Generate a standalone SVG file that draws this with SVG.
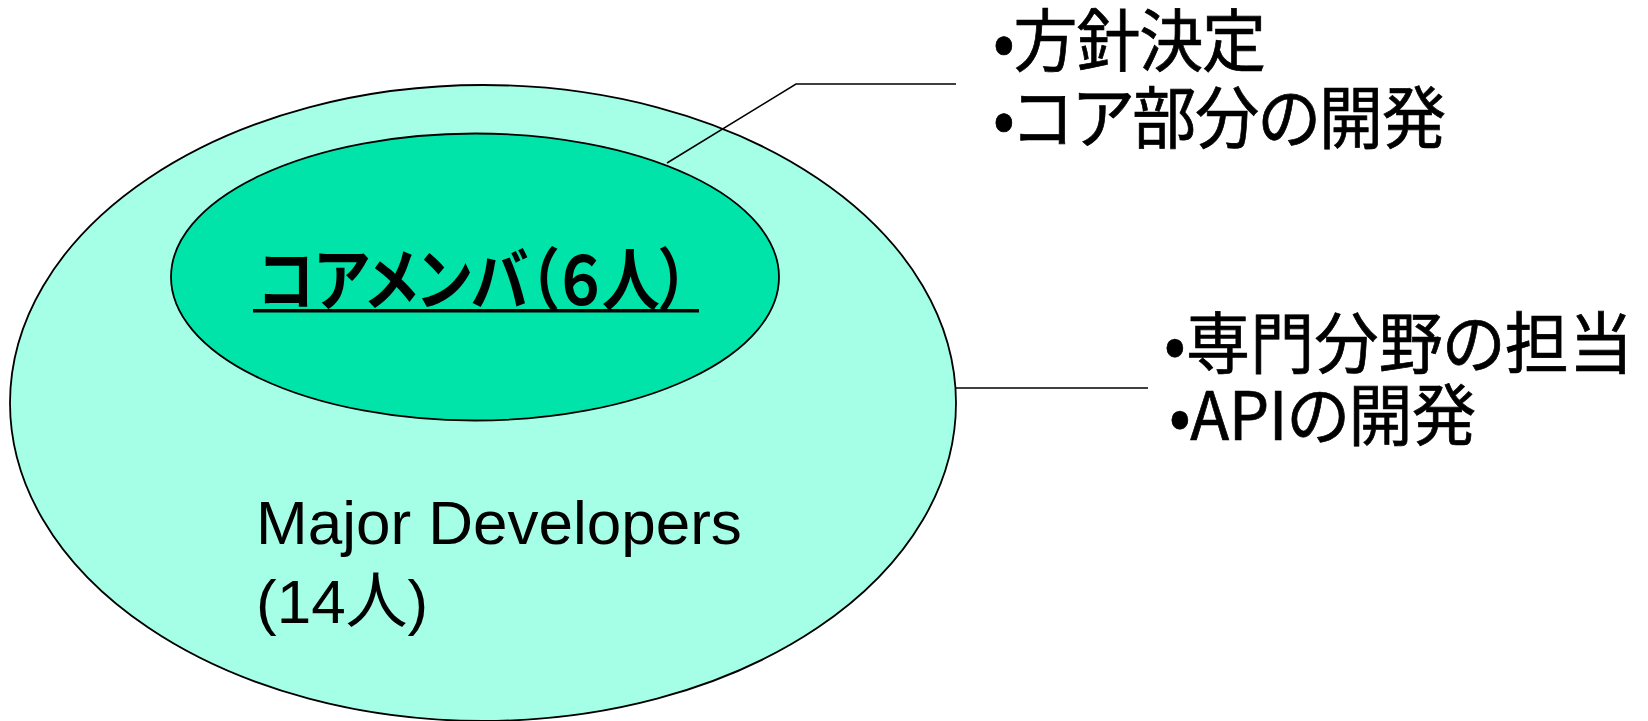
<svg xmlns="http://www.w3.org/2000/svg" width="1648" height="721" viewBox="0 0 1648 721">
  <style>
    .jp { font-family: "Noto Sans CJK JP", "Noto Sans", sans-serif; fill: #000; font-feature-settings: "palt"; }
    .rt { font-size: 64px; stroke: #000; stroke-width: 0.7; }
    .lat { font-family: "Liberation Sans", "Noto Sans CJK JP", sans-serif; fill: #000; }
    .conn { stroke: #000; stroke-width: 1.5; fill: none; }
  </style>
  <rect width="1648" height="721" fill="#fff"/>
  <g id="major-developers">
    <ellipse cx="483" cy="403" rx="473" ry="318" fill="#A5FFE6" stroke="#000" stroke-width="1.8"/>
    <text class="lat" x="256" y="544" font-size="62">Major Developers</text>
    <text class="lat" x="256" y="623" font-size="62">(14人)</text>
  </g>
  <g id="core-members">
    <ellipse cx="475" cy="277" rx="304" ry="143.5" fill="#00E4AA" stroke="#000" stroke-width="1.8"/>
    <text class="jp" x="258" y="0" transform="translate(0,305) scale(1,1.06)" font-size="64" font-weight="bold" textLength="431" lengthAdjust="spacingAndGlyphs">コアメンバ（６人）</text>
    <rect x="253" y="309" width="446" height="3.5" fill="#000"/>
  </g>
  <g id="core-roles">
    <text class="jp rt" x="993" y="0" transform="translate(0,66) scale(1,1.07)" textLength="273">•方針決定</text>
    <text class="jp rt" x="993" y="0" transform="translate(0,143) scale(1,1.07)" textLength="453">•コア部分の開発</text>
  </g>
  <g id="major-roles">
    <text class="jp rt" x="1164" y="0" transform="translate(0,368) scale(1,1.05)" textLength="469">•専門分野の担当</text>
    <text class="jp rt" x="1169" y="0" transform="translate(0,440) scale(1,1.05)" textLength="307">•APIの開発</text>
  </g>
  <g id="connectors">
    <polyline class="conn" points="667,163 796,84 956,84"/>
    <line class="conn" x1="956" y1="388" x2="1148" y2="388"/>
  </g>
</svg>
